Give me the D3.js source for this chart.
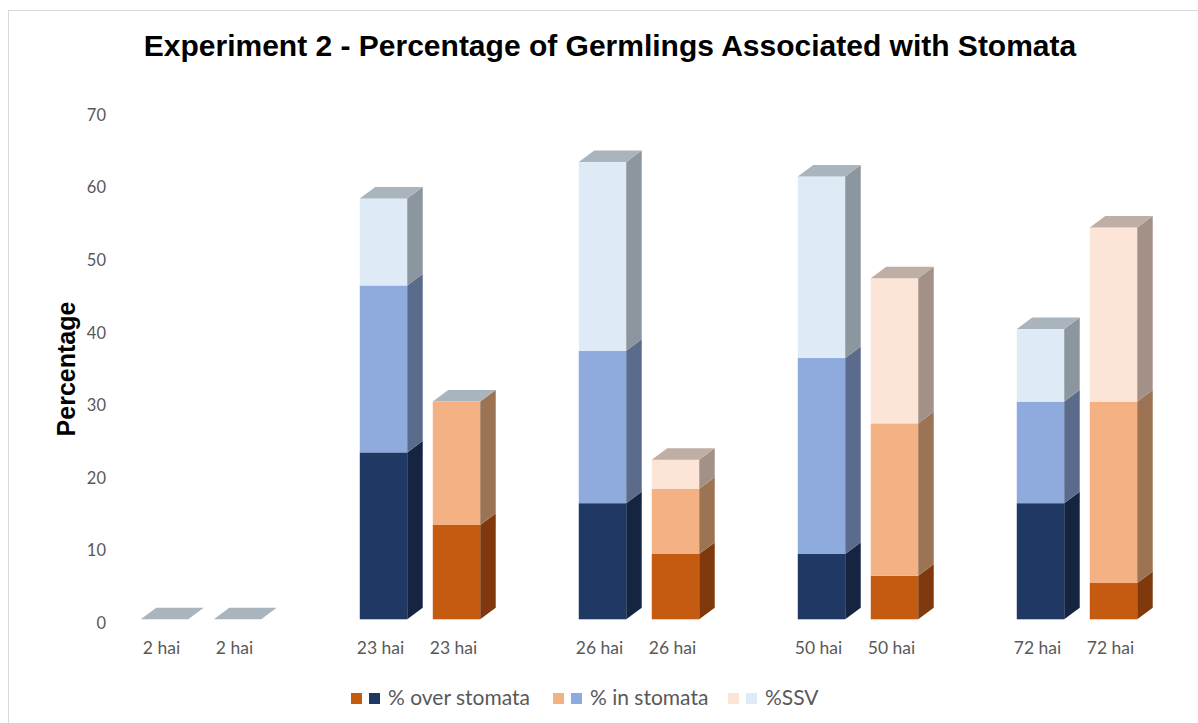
<!DOCTYPE html>
<html>
<head>
<meta charset="utf-8">
<script src="https://cdn.jsdelivr.net/npm/d3@7"></script>
<style>
  html, body { margin: 0; padding: 0; background: #fff; }
  svg { display: block; }
</style>
</head>
<body>
<svg id="chart" width="1198" height="723"></svg>
<script>
// Time points (hours after inoculation); each has two stacked columns
const timepoints = ["2 hai", "23 hai", "26 hai", "50 hai", "72 hai"];

// Blue column stack
const overBlue = [0, 23, 16, 9, 16];
const inBlue   = [0, 23, 21, 27, 14];
const ssvBlue  = [0, 12, 26, 25, 10];

// Orange column stack
const overOrange = [0, 13, 9, 6, 5];
const inOrange   = [0, 17, 9, 21, 25];
const ssvOrange  = [0, 0, 4, 20, 24];

const yTicks = [0, 10, 20, 30, 40, 50, 60, 70];
const legendLabels = ["% over stomata", "% in stomata", "%SSV"];

const palette = {
  blue: {
    front: ["#203864", "#8FAADC", "#DEEBF7"],
    side:  ["#152441", "#5B6B8B", "#8C969E"],
    cap: "#A9B4BD"
  },
  orange: {
    front: ["#C55A11", "#F4B183", "#FCE4D6"],
    side:  ["#7F390C", "#9C7353", "#A39188"],
    cap: "#BFAEA3"
  }
};
const neutralCap = "#A9B4BD";

const svg = d3.select("#chart");
const W = 1198, H = 723;

// chart frame
svg.append("rect")
  .attr("x", 8.5).attr("y", 10.5)
  .attr("width", W).attr("height", H)
  .attr("fill", "#fff").attr("stroke", "#D9D9D9").attr("stroke-width", 1);

const baseY = 619.3;
const y = d3.scaleLinear().domain([0, 70]).range([baseY, baseY - 70 * 7.257]);

const x0 = d3.scaleBand().domain(timepoints).range([128, 128 + 5 * 219]);
const x1 = d3.scaleBand().domain(["blue", "orange"])
  .range([0, x0.bandwidth() * 2 / 3])
  .paddingInner(0.35).paddingOuter(0.175);

const depthX = 15.5, depthY = 11.5;

// y axis labels
const yAxis = d3.axisLeft(y).tickValues(yTicks).tickSize(0).tickPadding(0);
const gy = svg.append("g").attr("transform", "translate(106,3.7)").call(yAxis);
gy.select(".domain").remove();
gy.selectAll("text")
  .attr("fill", "#595959")
  .style("font-family", "Lato, 'Open Sans', sans-serif")
  .style("font-size", "16.5px");

// build stacks
const columns = [];
timepoints.forEach((t, i) => {
  columns.push({ t, key: "blue", values: [overBlue[i], inBlue[i], ssvBlue[i]] });
  columns.push({ t, key: "orange", values: [overOrange[i], inOrange[i], ssvOrange[i]] });
});

const gBars = svg.append("g");
columns.forEach(col => {
  const set = palette[col.key];
  const xl = x0(col.t) + x1(col.key);
  const xr = xl + x1.bandwidth();
  const g = gBars.append("g");
  let acc = 0;
  col.values.forEach((v, s) => {
    if (v <= 0) return;
    const yb = y(acc), yt = y(acc + v);
    acc += v;
    g.append("rect")
      .attr("x", xl).attr("y", yt)
      .attr("width", xr - xl).attr("height", yb - yt)
      .attr("fill", set.front[s]);
    g.append("path")
      .attr("d", `M${xr},${yt}L${xr + depthX},${yt - depthY}L${xr + depthX},${yb - depthY}L${xr},${yb}Z`)
      .attr("fill", set.side[s]);
  });
  const ytop = y(acc);
  const ssv = col.values[2];
  g.append("path")
    .attr("d", `M${xl},${ytop}L${xl + depthX},${ytop - depthY}L${xr + depthX},${ytop - depthY}L${xr},${ytop}Z`)
    .attr("fill", ssv > 0 ? set.cap : neutralCap);
  // category label
  svg.append("text")
    .attr("x", (xl + xr) / 2 - 3)
    .attr("y", 654)
    .attr("text-anchor", "middle")
    .attr("fill", "#595959")
    .style("font-family", "Lato, 'Open Sans', sans-serif")
    .style("font-size", "17.5px")
    .text(col.t);
});

// title
svg.append("text")
  .attr("x", 610).attr("y", 56)
  .attr("text-anchor", "middle")
  .attr("fill", "#000")
  .style("font-family", "'Liberation Sans', Arial, sans-serif")
  .style("font-weight", "bold")
  .style("font-size", "30px")
  .text("Experiment 2 - Percentage of Germlings Associated with Stomata");

// y axis title
svg.append("text")
  .attr("transform", "translate(75,369) rotate(-90)")
  .attr("text-anchor", "middle")
  .attr("fill", "#000")
  .style("font-family", "'Liberation Sans', Arial, sans-serif")
  .style("font-weight", "bold")
  .style("font-size", "25px")
  .text("Percentage");

// legend
const legendX = [351, 553, 728];
const legend = svg.append("g");
legendLabels.forEach((lab, s) => {
  const lx = legendX[s];
  legend.append("rect").attr("x", lx).attr("y", 693).attr("width", 11).attr("height", 11)
    .attr("fill", palette.orange.front[s]);
  legend.append("rect").attr("x", lx + 18).attr("y", 693).attr("width", 11).attr("height", 11)
    .attr("fill", palette.blue.front[s]);
  legend.append("text")
    .attr("x", lx + 37).attr("y", 705)
    .attr("fill", "#595959")
    .style("font-family", "Lato, 'Open Sans', sans-serif")
    .style("font-size", "21px")
    .text(lab);
});
</script>
</body>
</html>
